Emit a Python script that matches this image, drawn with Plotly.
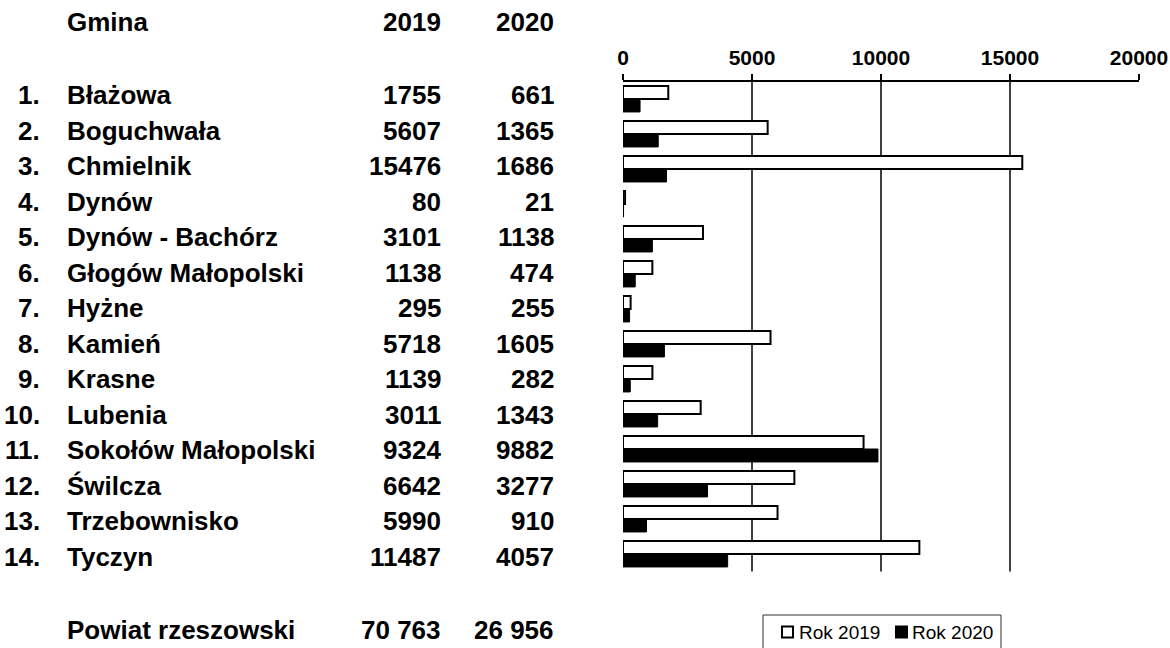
import plotly.graph_objects as go

# ---- data ----
numbers = ["1.", "2.", "3.", "4.", "5.", "6.", "7.", "8.", "9.", "10.", "11.", "12.", "13.", "14."]
gminy = ["Błażowa", "Boguchwała", "Chmielnik", "Dynów", "Dynów - Bachórz", "Głogów Małopolski",
         "Hyżne", "Kamień", "Krasne", "Lubenia", "Sokołów Małopolski", "Świlcza",
         "Trzebownisko", "Tyczyn"]
v2019 = [1755, 5607, 15476, 80, 3101, 1138, 295, 5718, 1139, 3011, 9324, 6642, 5990, 11487]
v2020 = [661, 1365, 1686, 21, 1138, 474, 255, 1605, 282, 1343, 9882, 3277, 910, 4057]
tick_vals = [0, 5000, 10000, 15000, 20000]
grid_vals = [5000, 10000, 15000]
header = ["Gmina", "2019", "2020"]
total_label = "Powiat rzeszowski"
series_names = ["Rok 2019", "Rok 2020"]
series_fill = ["white", "black"]

W, H = 1170, 648
FONT = "Liberation Sans, Arial, sans-serif"


def px_x(px):
    return px / W


def px_y(py):
    return 1 - py / H


def fmt_space(n):
    return f"{n:,}".replace(",", " ")


fig = go.Figure()
fig.add_trace(go.Bar(
    y=gminy, x=v2019, orientation="h", name=series_names[0],
    marker=dict(color=series_fill[0], line=dict(color="black", width=2)),
))
fig.add_trace(go.Bar(
    y=gminy, x=v2020, orientation="h", name=series_names[1],
    marker=dict(color=series_fill[1], line=dict(color="black", width=1)),
))

# vertical gridlines
for g in grid_vals:
    fig.add_shape(type="line", xref="x", yref="y domain", x0=g, x1=g, y0=0, y1=1,
                  line=dict(color="black", width=1.5), layer="below")

annotations = []
col_num_x = px_x(42)
col_name_x = px_x(65)
col_2019_x = px_x(443)
col_2020_x = px_x(556)
tfont = dict(family=FONT, size=26, color="black")

# the table rows in the original are spaced slightly wider than the bar bands
for i, (n, g, a, b) in enumerate(zip(numbers, gminy, v2019, v2020)):
    ys = 4 - i * 0.54
    common = dict(y=g, xref="paper", yref="y", showarrow=False, yanchor="middle", font=tfont, yshift=ys)
    annotations.append(dict(x=col_num_x, text=f"<b>{n}</b>", xanchor="right", **common))
    annotations.append(dict(x=col_name_x, text=f"<b>{g}</b>", xanchor="left", **common))
    annotations.append(dict(x=col_2019_x, text=f"<b>{a}</b>", xanchor="right", **common))
    annotations.append(dict(x=col_2020_x, text=f"<b>{b}</b>", xanchor="right", **common))

# header
hy = px_y(22)
annotations.append(dict(x=col_name_x, y=hy, xref="paper", yref="paper", text=f"<b>{header[0]}</b>",
                        showarrow=False, xanchor="left", yanchor="middle", font=tfont))
annotations.append(dict(x=col_2019_x, y=hy, xref="paper", yref="paper", text=f"<b>{header[1]}</b>",
                        showarrow=False, xanchor="right", yanchor="middle", font=tfont))
annotations.append(dict(x=col_2020_x, y=hy, xref="paper", yref="paper", text=f"<b>{header[2]}</b>",
                        showarrow=False, xanchor="right", yanchor="middle", font=tfont))
# totals
ty = px_y(630)
annotations.append(dict(x=col_name_x, y=ty, xref="paper", yref="paper", text=f"<b>{total_label}</b>",
                        showarrow=False, xanchor="left", yanchor="middle", font=tfont))
annotations.append(dict(x=col_2019_x, y=ty, xref="paper", yref="paper", text=f"<b>{fmt_space(sum(v2019))}</b>",
                        showarrow=False, xanchor="right", yanchor="middle", font=tfont))
annotations.append(dict(x=col_2020_x, y=ty, xref="paper", yref="paper", text=f"<b>{fmt_space(sum(v2020))}</b>",
                        showarrow=False, xanchor="right", yanchor="middle", font=tfont))

# legend (drawn as box + swatches + text to match the original spacing)
fig.add_shape(type="rect", xref="paper", yref="paper",
              x0=px_x(763), x1=px_x(1001), y0=px_y(652), y1=px_y(615),
              line=dict(color="#303030", width=1), fillcolor="rgba(0,0,0,0)")
leg_y = 632
leg_sw_x = [782, 896]
leg_tx_x = [797, 910]
for name, fill, sx, tx in zip(series_names, series_fill, leg_sw_x, leg_tx_x):
    fig.add_shape(type="rect", xref="paper", yref="paper",
                  x0=px_x(sx), x1=px_x(sx + 11), y0=px_y(leg_y + 5.5), y1=px_y(leg_y - 5.5),
                  line=dict(color="black", width=2), fillcolor=fill)
    annotations.append(dict(x=px_x(tx), y=px_y(leg_y), xref="paper", yref="paper", text=name,
                            showarrow=False, xanchor="left", yanchor="middle",
                            font=dict(family=FONT, size=19, color="black")))

fig.update_layout(
    width=W, height=H,
    margin=dict(l=0, r=0, t=0, b=0),
    paper_bgcolor="white", plot_bgcolor="white",
    barmode="group", bargap=0.26, bargroupgap=0,
    font=dict(family=FONT, color="black"),
    annotations=annotations,
    showlegend=False,
    xaxis=dict(domain=[px_x(623), px_x(1139)], range=[0, 20000], side="top",
               tickvals=tick_vals, ticktext=[f"<b>{t}</b>" for t in tick_vals],
               showgrid=False, zeroline=False, showline=True, linecolor="black", linewidth=1.5,
               ticks="outside", ticklen=6, tickwidth=1.5, tickcolor="black",
               tickfont=dict(family=FONT, size=21, color="black"), automargin=False, fixedrange=True),
    yaxis=dict(domain=[px_y(571.5), px_y(81.5)], autorange="reversed", visible=False,
               showgrid=False, zeroline=False, automargin=False, fixedrange=True),
)

fig.write_html("out.html", config={"displayModeBar": False},
               post_script="document.body.style.margin='0';")
